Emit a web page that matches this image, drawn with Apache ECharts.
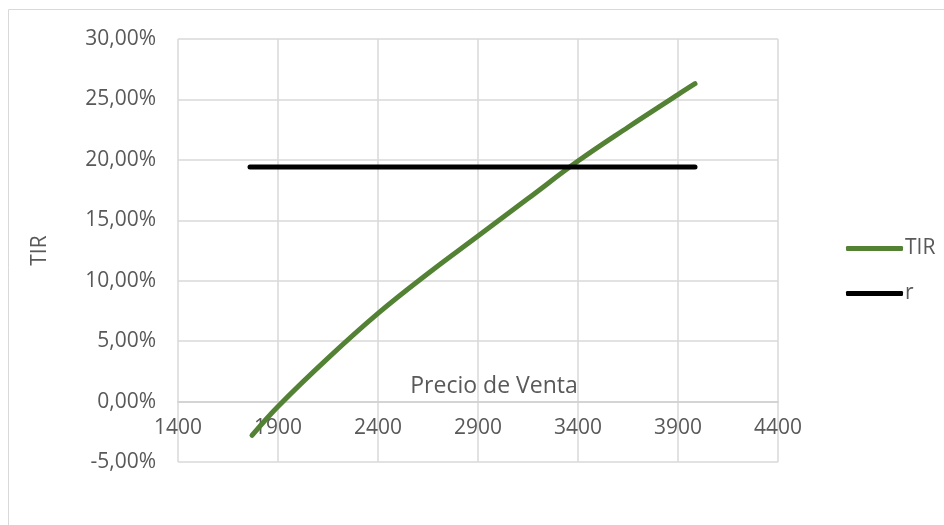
<!DOCTYPE html>
<html>
<head>
<meta charset="utf-8">
<script src="https://cdn.jsdelivr.net/npm/echarts@6/dist/echarts.min.js"></script>
<style>
  html, body { margin: 0; padding: 0; background: #ffffff; }
  #chart { width: 944px; height: 525px; }
</style>
</head>
<body>
<div id="chart"></div>
<script>
// Sale price (x) against internal rate of return (TIR) and the reference rate r
var precios = [1770, 1900, 2150, 2400, 2650, 2900, 3150, 3400, 3650, 3900, 3985];
var tir = [-0.028, -0.004, 0.036, 0.073, 0.106, 0.137, 0.168, 0.199, 0.227, 0.254, 0.263];
var tasaR = 0.194;
var rPrecios = [1760, 3985];

var xTicks = { min: 1400, max: 4400, step: 500 };
var yTicks = { min: -0.05, max: 0.30, step: 0.05 };

var FONT = 'Open Sans';
var GREY = '#595959';

var GRID = { left: 178, right: 166, top: 39, bottom: 63 };
var plotHeight = 525 - GRID.top - GRID.bottom;
// the horizontal axis crosses the vertical one at 0 %
var zeroOffset = -plotHeight * (0 - yTicks.min) / (yTicks.max - yTicks.min);

function pct(v) {
  return (v * 100).toFixed(2).replace('.', ',') + '%';
}

var chart = echarts.init(document.getElementById('chart'), null, { renderer: 'canvas' });

chart.setOption({
  backgroundColor: '#ffffff',
  animation: false,
  textStyle: { fontFamily: FONT },
  graphic: [
    {
      type: 'polyline',
      silent: true,
      shape: { points: [[8.5, 525], [8.5, 9.5], [944, 9.5]] },
      style: { stroke: '#d9d9d9', lineWidth: 1, fill: null }
    }
  ],
  grid: {
    left: GRID.left, right: GRID.right, top: GRID.top, bottom: GRID.bottom,
    containLabel: false, outerBoundsMode: 'none'
  },
  legend: {
    orient: 'vertical',
    left: 841,
    top: 233,
    itemWidth: 57,
    itemHeight: 5,
    itemGap: 24,
    icon: 'roundRect',
    textStyle: { fontFamily: FONT, fontSize: 21, color: GREY, padding: [0, 0, 0, -3] },
    data: ['TIR', 'r']
  },
  xAxis: {
    type: 'value',
    min: xTicks.min,
    max: xTicks.max,
    interval: xTicks.step,
    offset: zeroOffset,
    name: 'Precio de Venta',
    nameLocation: 'middle',
    nameGap: -4,
    nameMoveOverlap: false,
    nameTextStyle: { fontFamily: FONT, fontSize: 23, color: GREY, verticalAlign: 'bottom', padding: [0, 0, 0, 32] },
    axisLine: { onZero: false, lineStyle: { color: '#d0d0d0', width: 1.5 } },
    axisTick: { show: false },
    axisLabel: { margin: 16, fontFamily: FONT, fontSize: 21, color: GREY, formatter: function (v) { return String(v); } },
    splitLine: { show: true, lineStyle: { color: '#d9d9d9', width: 1.5 } }
  },
  yAxis: {
    type: 'value',
    min: yTicks.min,
    max: yTicks.max,
    interval: yTicks.step,
    name: 'TIR',
    nameLocation: 'middle',
    nameGap: 127,
    nameRotate: 90,
    nameTextStyle: { fontFamily: FONT, fontSize: 21, color: GREY },
    axisLine: { show: false },
    axisTick: { show: false },
    axisLabel: { margin: 22, fontFamily: FONT, fontSize: 21, color: GREY, formatter: pct },
    splitLine: { show: true, lineStyle: { color: '#d9d9d9', width: 1.5 } }
  },
  series: [
    {
      name: 'TIR',
      type: 'line',
      smooth: 0.4,
      symbol: 'none',
      color: '#548235',
      lineStyle: { color: '#548235', width: 5, cap: 'round' },
      data: precios.map(function (p, i) { return [p, tir[i]]; })
    },
    {
      name: 'r',
      type: 'line',
      symbol: 'none',
      color: '#000000',
      lineStyle: { color: '#000000', width: 5, cap: 'round' },
      data: rPrecios.map(function (p) { return [p, tasaR]; })
    }
  ]
});
</script>
</body>
</html>
